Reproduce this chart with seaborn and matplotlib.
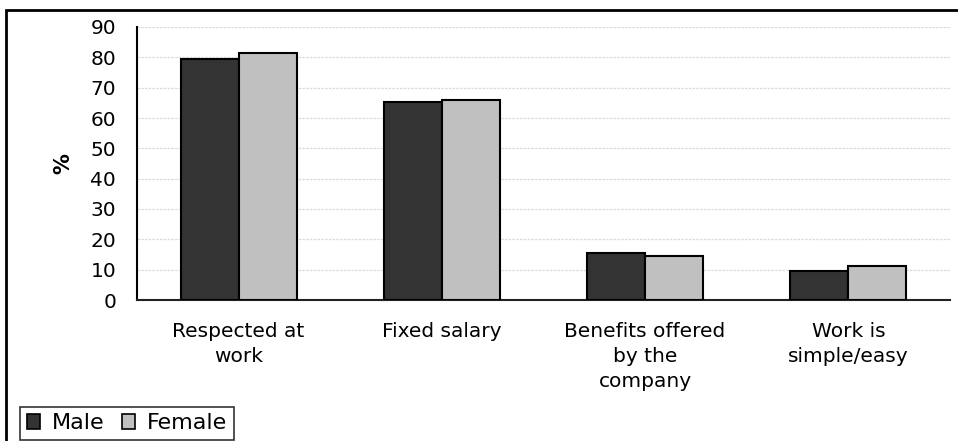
import matplotlib
matplotlib.use("Agg")
import matplotlib.pyplot as plt
import matplotlib.patches as mpatches
import seaborn as sns
import pandas as pd
import numpy as np

categories = ["Respected at\nwork", "Fixed salary", "Benefits offered\nby the\ncompany", "Work is\nsimple/easy"]
male = [79.5, 65.4, 15.6, 9.7]
female = [81.5, 65.9, 14.6, 11.2]
groups = ["Male", "Female"]
yticks = [0, 10, 20, 30, 40, 50, 60, 70, 80, 90]

df = pd.DataFrame({
    "category": categories * 2,
    "group": [groups[0]] * len(categories) + [groups[1]] * len(categories),
    "value": male + female,
})

sns.set_theme(style="white")
plt.rcParams["font.family"] = ["DejaVu Sans"]

colors = {"Male": "#333333", "Female": "#c0c0c0"}
FS = 14.5

fig = plt.figure(figsize=(9.58, 4.41), dpi=100)
ax = fig.add_axes([137 / 958, 1 - 300 / 441, (950 - 137) / 958, (300 - 27) / 441])

sns.barplot(data=df, x="category", y="value", hue="group", palette=colors,
            width=0.57, edgecolor="black", linewidth=1.5, saturation=1,
            ax=ax, legend=False, zorder=3)

ax.set_xlim(-0.5, len(categories) - 0.5)
ax.set_ylim(0, 90)
ax.set_yticks(yticks)
ax.set_yticklabels([str(t) for t in yticks], fontsize=FS, color="black")
ax.yaxis.grid(True, color="#dadada", linestyle=(0, (2, 1)), linewidth=0.9, zorder=0)
ax.set_axisbelow(True)

# category labels at centres, tick marks at the group boundaries
ax.set_xticks(range(len(categories)))
ax.set_xticklabels(categories, fontsize=FS, color="black", linespacing=1.38, va="top")
ax.tick_params(axis="x", which="major", length=0, pad=16)
ax.set_xticks(np.arange(-0.5, len(categories)), minor=True)
ax.tick_params(axis="x", which="minor", length=7, width=1.5, color="#222222", direction="out")
ax.tick_params(axis="y", length=9, width=1.5, color="black", direction="out", pad=6)

ax.set_xlabel("")
ax.set_ylabel("%", fontsize=15, fontweight="bold", color="black", labelpad=12)

for side in ["top", "right"]:
    ax.spines[side].set_visible(False)
ax.spines["left"].set_color("black")
ax.spines["left"].set_linewidth(1.5)
ax.spines["bottom"].set_color("#222222")
ax.spines["bottom"].set_linewidth(1.5)

# outer chart frame
frame = mpatches.Rectangle((6 / 958, -0.05), 1.2, 1 - 10 / 441 + 0.05,
                           transform=fig.transFigure, fill=False,
                           edgecolor="black", linewidth=2, clip_on=False)
fig.patches.append(frame)

handles = [mpatches.Patch(facecolor=colors[g], edgecolor="black", linewidth=1.2, label=g)
           for g in groups]
leg = fig.legend(handles=handles, loc="lower left", bbox_to_anchor=(20 / 958, 1 / 441),
                 ncol=2, frameon=True, fancybox=False, fontsize=16, labelcolor="black",
                 handlelength=0.6, handleheight=0.6, handletextpad=0.55,
                 columnspacing=0.75, borderpad=0.3, borderaxespad=0)
leg.get_frame().set_edgecolor("black")
leg.get_frame().set_linewidth(1.2)

fig.savefig("out.png", dpi=100)
